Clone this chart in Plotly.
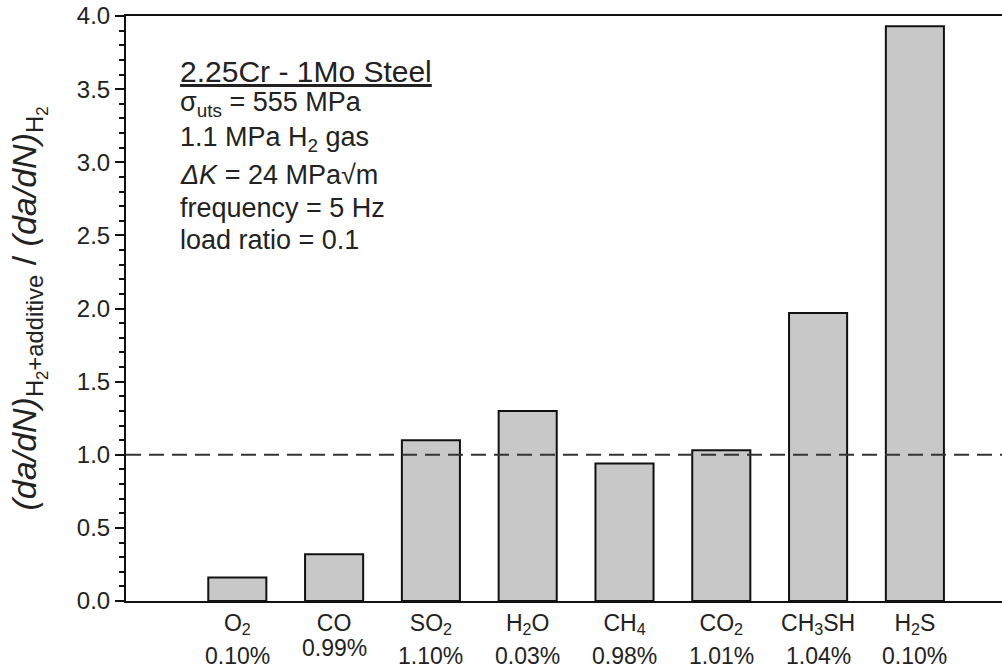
import plotly.graph_objects as go

# Fatigue crack growth rate ratio for 2.25Cr-1Mo steel, H2 with gas additives
gases = ["O<sub>2</sub>", "CO", "SO<sub>2</sub>", "H<sub>2</sub>O", "CH<sub>4</sub>",
         "CO<sub>2</sub>", "CH<sub>3</sub>SH", "H<sub>2</sub>S"]
concentrations = ["0.10%", "0.99%", "1.10%", "0.03%", "0.98%", "1.01%", "1.04%", "0.10%"]
rate_ratio = [0.16, 0.32, 1.10, 1.30, 0.94, 1.03, 1.97, 3.93]
y_ticks = [0.0, 0.5, 1.0, 1.5, 2.0, 2.5, 3.0, 3.5, 4.0]

info_title = "<u>2.25Cr - 1Mo Steel</u>"
info_lines = [
    "σ<sub>uts</sub> = 555 MPa",
    "1.1 MPa H<sub>2</sub> gas",
    "<i>ΔK</i> = 24 MPa√m",
    "frequency = 5 Hz",
    "load ratio = 0.1",
]
info_title_y = 3.62
info_y = [3.40, 3.16, 2.91, 2.69, 2.47]

FONT = "Liberation Sans, Arial, sans-serif"
INK = "#222222"

x_pos = list(range(len(gases)))

fig = go.Figure()
fig.add_trace(go.Bar(
    x=x_pos, y=rate_ratio, width=0.6,
    marker=dict(color="#c8c8c8", line=dict(color="#111111", width=2)),
    showlegend=False,
))

# reference level: no change relative to pure H2
fig.add_shape(type="line", xref="paper", yref="y", x0=0, x1=1, y0=1.0, y1=1.0,
              line=dict(color="#333333", width=2, dash="15px,8px"))

# additive concentration printed under each gas name
for xi, g, c in zip(x_pos, gases, concentrations):
    fig.add_annotation(x=xi, xref="x", y=0, yref="paper", text=c,
                       showarrow=False, xanchor="center", yanchor="middle",
                       yshift=-55 if "<sub>" in g else -47,
                       font=dict(family=FONT, size=23, color=INK))

# material / test condition block
fig.add_annotation(x=0.059, xref="paper", y=info_title_y, yref="y", text=info_title,
                   showarrow=False, xanchor="left", yanchor="middle",
                   font=dict(family=FONT, size=30, color=INK))
for txt, yv in zip(info_lines, info_y):
    fig.add_annotation(x=0.059, xref="paper", y=yv, yref="y", text=txt,
                       showarrow=False, xanchor="left", yanchor="middle",
                       font=dict(family=FONT, size=27, color=INK))

fig.update_layout(
    width=1002, height=668,
    margin=dict(l=126, r=0, t=16, b=67),
    paper_bgcolor="white", plot_bgcolor="white",
    font=dict(family=FONT, size=23, color=INK),
    xaxis=dict(
        range=[-1.15, 7.9], tickmode="array", tickvals=x_pos, ticktext=gases,
        showline=True, linecolor="#111111", linewidth=2, mirror=True,
        ticks="", showgrid=False, zeroline=False,
        tickfont=dict(family=FONT, size=23, color=INK),
    ),
    yaxis=dict(
        range=[0, 4.0], tickmode="array", tickvals=y_ticks,
        ticktext=[f"{v:.1f}" for v in y_ticks],
        showline=True, linecolor="#111111", linewidth=2,
        ticks="outside", ticklen=9, tickwidth=2, tickcolor="#111111",
        minor=dict(ticks="outside", dtick=0.1, ticklen=5, tickwidth=1.5, tickcolor="#111111"),
        showgrid=False, zeroline=False,
        tickfont=dict(family=FONT, size=24, color=INK),
        title=dict(
            text="<i>(da/dN)</i><sub>H<sub>2</sub>+additive</sub> / <i>(da/dN)</i><sub>H<sub>2</sub></sub>",
            font=dict(family=FONT, size=34, color=INK), standoff=30,
        ),
    ),
)

fig.write_html("out.html")
